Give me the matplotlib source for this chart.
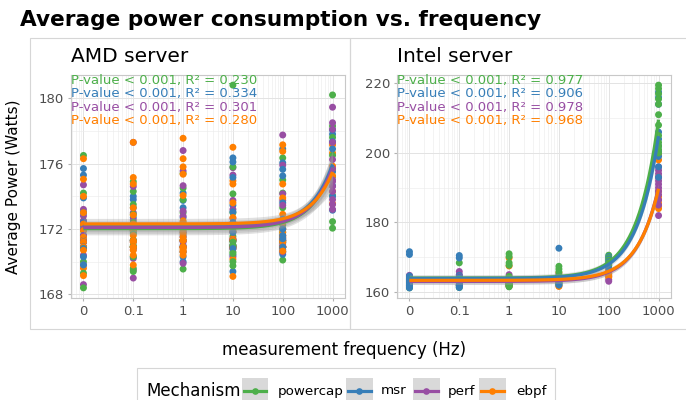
import numpy as np
import matplotlib
matplotlib.use("Agg")
import matplotlib.pyplot as plt
from matplotlib.patches import Rectangle
from matplotlib.lines import Line2D
from matplotlib.ticker import FixedLocator, LogLocator, NullFormatter

W, H = 686, 400

freqs = [0, 0.1, 1, 10, 100, 1000]
freq_labels = ['0', '0.1', '1', '10', '100', '1000']
mechanisms = ['powercap', 'msr', 'perf', 'ebpf']
colors = ['#4daf4a', '#377eb8', '#984ea3', '#ff7f00']

# AMD server, one list per frequency
amd_powercap = [[176.5, 174.2, 173.0, 172.5, 172.2, 171.9, 171.6, 171.3, 171.2, 170.9, 170.8, 170.0, 169.3, 168.4],
                [174.9, 174.3, 173.5, 172.9, 172.4, 172.1, 171.9, 171.7, 171.3, 171.0, 170.9, 170.3, 169.6, 169.4],
                [175.4, 174.5, 173.8, 173.0, 172.4, 172.0, 171.8, 171.3, 171.3, 170.9, 170.6, 169.55],
                [180.8, 175.8, 174.15, 173.0, 172.3, 171.9, 171.55, 171.3, 171.2, 170.9, 170.6, 169.75, 170.0,
                 171.0, 170.5],
                [176.35, 175.0, 174.2, 173.3, 172.25, 171.8, 171.3, 171.2, 170.9, 170.6, 170.1],
                [180.2, 178.3, 177.6, 176.5, 175.2, 174.05, 172.45, 172.05]]
amd_msr = [[175.7, 175.3, 173.9, 173.0, 172.4, 172.0, 171.6, 171.3, 171.2, 170.9, 170.8, 170.3, 169.8],
           [174.0, 173.8, 173.3, 172.7, 172.2, 171.8, 171.3, 171.3, 170.9, 170.9, 170.3],
           [174.2, 173.75, 173.3, 172.7, 172.2, 171.6, 171.3, 171.0, 170.9, 170.3, 170.0],
           [176.35, 176.1, 175.15, 173.45, 173.05, 172.4, 171.3, 171.3, 170.9, 170.4, 169.4, 171.8, 171.0,
            170.8],
           [176.9, 176.05, 175.65, 175.25, 173.6, 172.6, 171.3, 171.15, 170.9, 170.75, 170.45, 172.0, 171.6,
            171.4, 170.9],
           [178.05, 177.8, 177.35, 176.9, 175.5, 174.65, 174.0, 173.15]]
amd_perf = [[174.7, 173.2, 172.8, 172.5, 172.3, 172.0, 171.6, 171.3, 171.2, 170.9, 170.4, 169.8, 168.6],
            [177.3, 174.6, 173.0, 172.55, 171.9, 171.3, 171.2, 170.9, 170.75, 170.2, 169.5, 169.0],
            [176.8, 175.55, 174.65, 173.1, 172.8, 172.0, 171.8, 171.5, 171.3, 171.2, 170.9, 170.9, 170.6,
             169.9],
            [175.75, 175.3, 173.75, 173.2, 172.65, 171.8, 171.4, 171.3, 170.95, 170.9, 170.8, 170.3],
            [177.75, 175.9, 174.15, 173.75, 173.45, 172.4, 172.0, 171.6, 171.45, 171.3, 171.0, 170.9, 170.9,
             170.6],
            [179.45, 178.5, 178.1, 177.3, 176.25, 175.7, 175.0, 174.9, 174.6, 174.3, 173.8, 173.5, 173.2]]
amd_ebpf = [[176.3, 175.05, 174.0, 173.0, 172.3, 171.9, 171.5, 171.3, 171.2, 170.9, 170.7, 169.6, 169.15],
            [177.3, 175.15, 174.75, 173.3, 172.85, 172.3, 171.9, 171.6, 171.3, 171.2, 170.9, 170.9, 170.7,
             170.4, 169.8],
            [177.55, 176.3, 175.8, 175.35, 174.05, 172.5, 172.1, 171.9, 171.7, 171.5, 171.3, 171.3, 170.9,
             170.9, 170.8, 170.7, 170.6, 170.4],
            [177.0, 174.95, 174.75, 173.6, 172.7, 171.85, 171.4, 171.3, 171.0, 170.9, 170.8, 170.15, 169.1],
            [177.15, 176.75, 174.75, 173.9, 172.9, 172.4, 172.0, 171.8, 171.6, 171.5, 171.3, 171.2, 170.9,
             170.9, 170.65],
            [177.15, 176.65, 175.85, 175.65, 175.25, 174.3, 173.55]]

# Intel server
intel_powercap = [[164.5, 163.8, 163.0, 162.8, 162.3, 162.0, 161.6, 161.2],
                  [168.4, 164.0, 163.0, 162.0, 161.3],
                  [171.0, 170.2, 168.4, 167.7, 164.5, 163.4, 163.0, 162.6, 162.2, 162.0, 161.8, 161.5],
                  [167.4, 166.6, 165.8, 164.5, 163.8, 163.2, 162.5, 162.1],
                  [170.6, 169.9, 169.2, 168.4, 167.6],
                  [219.5, 218.5, 217.0, 215.5, 214.0, 211.0, 208.0, 205.0, 203.0, 202.0, 201.0, 200.0]]
intel_msr = [[171.6, 170.8, 164.6, 164.0, 163.5, 163.3, 163.0, 162.9, 162.6, 162.2, 162.0, 161.8, 161.4, 161.2],
             [170.5, 169.8, 164.8, 164.2, 163.6, 163.4, 163.0, 162.8, 162.5, 162.0, 161.6, 161.3],
             [164.0, 163.4, 163.0, 162.8, 162.5, 162.3, 161.8],
             [172.6, 165.0, 164.4, 164.0, 163.5, 163.0, 162.5, 162.0],
             [170.2, 169.5, 168.7, 167.8, 166.8],
             [217.5, 216.0, 214.0, 206.0, 204.0, 202.0, 200.5, 199.0, 196.0, 193.0]]
intel_perf = [[164.8, 163.5, 162.6, 161.8],
              [165.9, 165.0, 164.4, 163.0, 162.0],
              [165.0, 164.0, 162.5, 161.6],
              [164.5, 163.5, 162.6, 161.8],
              [166.0, 165.2, 164.5, 163.6, 163.1],
              [196.0, 195.0, 194.0, 193.0, 192.0, 191.0, 190.0, 189.0, 188.0, 186.5, 185.0, 182.0]]
intel_ebpf = [[163.3, 162.7, 162.0],
              [163.8, 162.8, 161.9],
              [169.8, 167.5, 163.6, 163.0, 162.4, 162.0, 161.7],
              [165.5, 164.2, 163.0, 161.6],
              [166.5, 165.6, 164.8, 164.3],
              [199.5, 198.0, 193.0, 189.0, 187.5, 186.5, 185.5, 184.7, 184.0]]

amd_labels = ['P-value < 0.001, R\u00b2 = 0.230', 'P-value < 0.001, R\u00b2 = 0.334',
              'P-value < 0.001, R\u00b2 = 0.301', 'P-value < 0.001, R\u00b2 = 0.280']
intel_labels = ['P-value < 0.001, R\u00b2 = 0.977', 'P-value < 0.001, R\u00b2 = 0.906',
                'P-value < 0.001, R\u00b2 = 0.978', 'P-value < 0.001, R\u00b2 = 0.968']

amd_data = [amd_powercap, amd_msr, amd_perf, amd_ebpf]
intel_data = [intel_powercap, intel_msr, intel_perf, intel_ebpf]


def xpos(f):
    # 0 Hz sits one decade left of 0.1 on the log axis
    return np.where(np.asarray(f) == 0, 0.01, f)


def flat(series):
    x, y = [], []
    for f, vals in zip(freqs, series):
        x += [f] * len(vals)
        y += list(vals)
    return np.array(x, float), np.array(y, float)


def draw_panel(ax, data, labels, title, yticks, yminor):
    # points, interleaved so no mechanism sits always on top
    px, py, pc = [], [], []
    for j in range(len(freqs)):
        n = max(len(s[j]) for s in data)
        for i in range(n):
            for k, s in enumerate(data):
                if i < len(s[j]):
                    px.append(xpos(freqs[j]))
                    py.append(s[j][i])
                    pc.append(colors[k])
    ax.scatter(px, py, s=25, c=pc, linewidths=0, zorder=3)

    # linear fits with confidence band
    xs = np.logspace(-2, 3, 300)
    for k, s in enumerate(data):
        x, y = flat(s)
        b, a = np.polyfit(x, y, 1)
        n = len(x)
        resid = y - (a + b * x)
        s2 = np.sum(resid ** 2) / (n - 2)
        sxx = np.sum((x - x.mean()) ** 2)
        fit = a + b * xs
        se = np.sqrt(s2 * (1.0 / n + (xs - x.mean()) ** 2 / sxx))
        ax.fill_between(xs, fit - 1.4 * se, fit + 1.4 * se, color='0.6', alpha=0.3,
                        linewidth=0, zorder=4)
        ax.plot(xs, fit, color=colors[k], lw=2.3, zorder=5, solid_capstyle='butt')

    allv = np.concatenate([flat(s)[1] for s in data])
    lo, hi = allv.min(), allv.max()
    pad = 0.05 * (hi - lo)
    ax.set_ylim(lo - pad, hi + pad)
    ax.set_xscale('log')
    ax.set_xlim(10 ** -2.25, 10 ** 3.25)
    ax.xaxis.set_major_locator(FixedLocator(list(xpos(freqs))))
    ax.set_xticklabels(freq_labels)
    ax.xaxis.set_minor_locator(LogLocator(base=10, subs=np.arange(2, 10)))
    ax.xaxis.set_minor_formatter(NullFormatter())
    ax.set_yticks(yticks)
    ax.set_yticks(yminor, minor=True)
    ax.grid(True, which='major', color='#e3e3e3', lw=0.7, zorder=0)
    ax.grid(True, which='minor', color='#ececec', lw=0.45, zorder=0)
    ax.set_axisbelow(True)
    for sp in ax.spines.values():
        sp.set_color('#c8c8c8')
        sp.set_linewidth(0.8)
    ax.tick_params(which='major', length=2.5, color='#b3b3b3', labelsize=9.5,
                   labelcolor='#4d4d4d', pad=2.5)
    ax.tick_params(which='minor', length=0)

    for i, (lab, c) in enumerate(zip(labels, colors)):
        yc = 80.5 + 13.4 * i
        ax.text(0.0, (298 - yc) / 223.0, lab, color=c, fontsize=9.5, ha='left',
                va='center', transform=ax.transAxes, zorder=6)
    ax.text(0.0, 1 + 13.3 / 223.0, title, fontsize=14.5, ha='left', va='baseline',
            transform=ax.transAxes)


fig = plt.figure(figsize=(W / 100, H / 100), dpi=100)

# outer boxes of the two sub-plots
fig.patches.append(Rectangle((30 / W, 1 - 329 / H), 320 / W, 291 / H, transform=fig.transFigure,
                             fill=False, ec='#d6d6d6', lw=0.8))
fig.patches.append(Rectangle((350 / W, 1 - 329 / H), 400 / W, 291 / H, transform=fig.transFigure,
                             fill=False, ec='#d6d6d6', lw=0.8))

ax1 = fig.add_axes([71 / W, 1 - 298 / H, 274 / W, 223 / H])
ax2 = fig.add_axes([397 / W, 1 - 298 / H, 274 / W, 223 / H])

draw_panel(ax1, amd_data, amd_labels, 'AMD server', [168, 172, 176, 180], [170, 174, 178])
draw_panel(ax2, intel_data, intel_labels, 'Intel server', [160, 180, 200, 220], [170, 190, 210])

fig.text(20 / W, 1 - 26 / H, 'Average power consumption vs. frequency', fontsize=15.6,
         fontweight='bold', ha='left', va='baseline')
fig.text(14 / W, 1 - 187 / H, 'Average Power (Watts)', fontsize=11, rotation=90,
         ha='center', va='center')
fig.text(344 / W, 1 - 350 / H, 'measurement frequency (Hz)', fontsize=12,
         ha='center', va='center')

# legend
fig.patches.append(Rectangle((137 / W, 1 - 420 / H), 418 / W, 52 / H, transform=fig.transFigure,
                             fill=False, ec='#d6d6d6', lw=0.8))
fig.text(146 / W, 1 - 391 / H, 'Mechanism', fontsize=12, ha='left', va='center')
key_x = [241.5, 346, 413, 479]
lab_x = [277.5, 381, 448, 516]
for k, m in enumerate(mechanisms):
    fig.patches.append(Rectangle((key_x[k] / W, 1 - 405 / H), 26.5 / W, 27 / H,
                                 transform=fig.transFigure, fc='#d9d9d9', ec='none'))
    fig.lines.append(Line2D([(key_x[k] + 2) / W, (key_x[k] + 24.5) / W], [1 - 391 / H] * 2,
                            transform=fig.transFigure, color=colors[k], lw=2.3))
    fig.lines.append(Line2D([(key_x[k] + 13.25) / W], [1 - 391 / H], transform=fig.transFigure,
                            color=colors[k], marker='o', ms=4.8, mew=0, ls='none'))
    fig.text(lab_x[k] / W, 1 - 391 / H, m, fontsize=9.7, ha='left', va='center')

fig.savefig('out.png', dpi=100)
